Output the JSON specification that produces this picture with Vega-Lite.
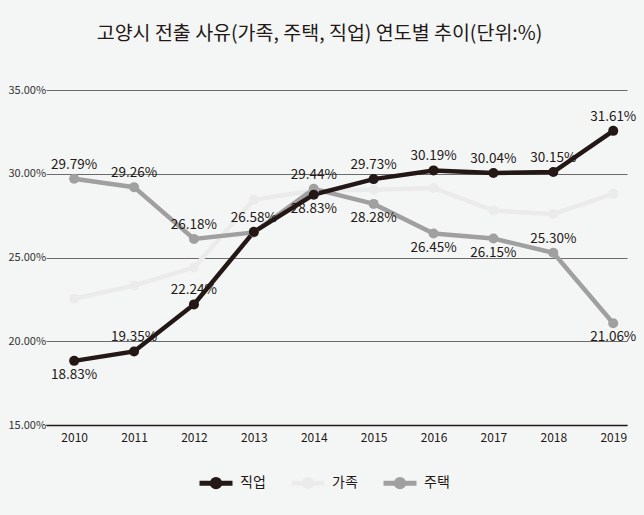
{
  "$schema": "https://vega.github.io/schema/vega-lite/v6.json",
  "width": 581,
  "height": 335,
  "autosize": {"type": "none"},
  "padding": {"left": 46, "top": 90, "right": 17, "bottom": 90},
  "background": "#f4f6f5",
  "config": {"view": {"stroke": null}, "font": "Noto Sans CJK KR"},
  "title": {
    "text": "고양시 전출 사유(가족, 주택, 직업) 연도별 추이(단위:%)",
    "anchor": "middle",
    "dx": -17,
    "offset": 40,
    "font": "Noto Sans CJK KR",
    "fontSize": 19.5,
    "fontWeight": 400,
    "color": "#231815"
  },
  "data": {
    "values": [
      {"series": "가족", "year": 2010, "value": 22.54, "label": null},
      {"series": "가족", "year": 2011, "value": 23.33, "label": null},
      {"series": "가족", "year": 2012, "value": 24.4, "label": null},
      {"series": "가족", "year": 2013, "value": 28.45, "label": null},
      {"series": "가족", "year": 2014, "value": 29.0, "label": null},
      {"series": "가족", "year": 2015, "value": 29.05, "label": null},
      {"series": "가족", "year": 2016, "value": 29.15, "label": null},
      {"series": "가족", "year": 2017, "value": 27.8, "label": null},
      {"series": "가족", "year": 2018, "value": 27.6, "label": null},
      {"series": "가족", "year": 2019, "value": 28.8, "label": null},
      {"series": "주택", "year": 2010, "value": 29.7, "label": "29.79%"},
      {"series": "주택", "year": 2011, "value": 29.2, "label": "29.26%"},
      {"series": "주택", "year": 2012, "value": 26.11, "label": "26.18%"},
      {"series": "주택", "year": 2013, "value": 26.5, "label": null},
      {"series": "주택", "year": 2014, "value": 29.1, "label": "29.44%"},
      {"series": "주택", "year": 2015, "value": 28.2, "label": "28.28%"},
      {"series": "주택", "year": 2016, "value": 26.43, "label": "26.45%"},
      {"series": "주택", "year": 2017, "value": 26.13, "label": "26.15%"},
      {"series": "주택", "year": 2018, "value": 25.28, "label": "25.30%"},
      {"series": "주택", "year": 2019, "value": 21.07, "label": "21.06%"},
      {"series": "직업", "year": 2010, "value": 18.83, "label": "18.83%"},
      {"series": "직업", "year": 2011, "value": 19.39, "label": "19.35%"},
      {"series": "직업", "year": 2012, "value": 22.2, "label": "22.24%"},
      {"series": "직업", "year": 2013, "value": 26.53, "label": "26.58%"},
      {"series": "직업", "year": 2014, "value": 28.75, "label": "28.83%"},
      {"series": "직업", "year": 2015, "value": 29.68, "label": "29.73%"},
      {"series": "직업", "year": 2016, "value": 30.2, "label": "30.19%"},
      {"series": "직업", "year": 2017, "value": 30.04, "label": "30.04%"},
      {"series": "직업", "year": 2018, "value": 30.1, "label": "30.15%"},
      {"series": "직업", "year": 2019, "value": 32.56, "label": "31.61%"}
    ]
  },
  "encoding": {
    "x": {
      "field": "year",
      "type": "quantitative",
      "scale": {"domain": [2009.53, 2019.23], "nice": false, "zero": false},
      "axis": {
        "title": null,
        "values": [2010, 2011, 2012, 2013, 2014, 2015, 2016, 2017, 2018, 2019],
        "format": "d",
        "grid": false,
        "ticks": false,
        "domain": true,
        "domainColor": "#231815",
        "domainWidth": 1.5,
        "labelPadding": 7,
        "labelFont": "Noto Sans CJK KR",
        "labelFontSize": 12,
        "labelColor": "#231815"
      }
    },
    "y": {
      "field": "value",
      "type": "quantitative",
      "scale": {"domain": [15, 35], "nice": false, "zero": false},
      "axis": {
        "title": null,
        "values": [15, 20, 25, 30, 35],
        "labelExpr": "format(datum.value, '.2f') + '%'",
        "labelAlign": "left",
        "labelPadding": 38,
        "ticks": false,
        "tickSize": 0,
        "domain": false,
        "grid": true,
        "gridColor": "#6b6b6b",
        "gridWidth": 1,
        "labelFont": "Noto Sans CJK KR",
        "labelFontSize": 11,
        "labelColor": "#333333"
      }
    }
  },
  "layer": [
    {
      "mark": {"type": "line", "strokeWidth": 4.5},
      "encoding": {
        "color": {
          "field": "series",
          "type": "nominal",
          "scale": {"domain": ["직업", "가족", "주택"], "range": ["#231815", "#ebebeb", "#a0a0a0"]},
          "legend": {
            "orient": "none",
            "legendX": 151,
            "legendY": 374,
            "direction": "horizontal",
            "title": null,
            "symbolType": "M-1,0H1M0.22,0A0.22,0.22,0,1,1,-0.22,0A0.22,0.22,0,1,1,0.22,0Z",
            "symbolSize": 1089,
            "symbolStrokeWidth": 5,
            "labelFont": "Noto Sans CJK KR",
            "labelFontSize": 14,
            "labelFontWeight": 400,
            "labelColor": "#231815",
            "labelOffset": 5,
            "columnPadding": 15,
            "padding": 0,
            "encode": {
              "symbols": {
                "update": {
                  "fill": {"scale": "color", "field": "value"},
                  "stroke": {"scale": "color", "field": "value"},
                  "opacity": {"value": 1}
                }
              }
            }
          }
        }
      }
    },
    {
      "mark": {"type": "circle", "size": 100, "opacity": 1},
      "encoding": {
        "color": {"field": "series", "type": "nominal", "legend": null}
      }
    },
    {
      "transform": [
        {"filter": "datum.label != null && !((datum.series == '직업' && (datum.year == 2010 || datum.year == 2014)) || (datum.series == '주택' && indexof([2015, 2016, 2017, 2019], datum.year) >= 0))"}
      ],
      "mark": {"type": "text", "baseline": "bottom", "dy": -7, "font": "Noto Sans CJK KR", "fontSize": 13.5, "color": "#231815"},
      "encoding": {"text": {"field": "label"}}
    },
    {
      "transform": [
        {"filter": "datum.label != null && ((datum.series == '직업' && (datum.year == 2010 || datum.year == 2014)) || (datum.series == '주택' && indexof([2015, 2016, 2017, 2019], datum.year) >= 0))"}
      ],
      "mark": {"type": "text", "baseline": "top", "dy": 7, "font": "Noto Sans CJK KR", "fontSize": 13.5, "color": "#231815"},
      "encoding": {"text": {"field": "label"}}
    }
  ]
}
